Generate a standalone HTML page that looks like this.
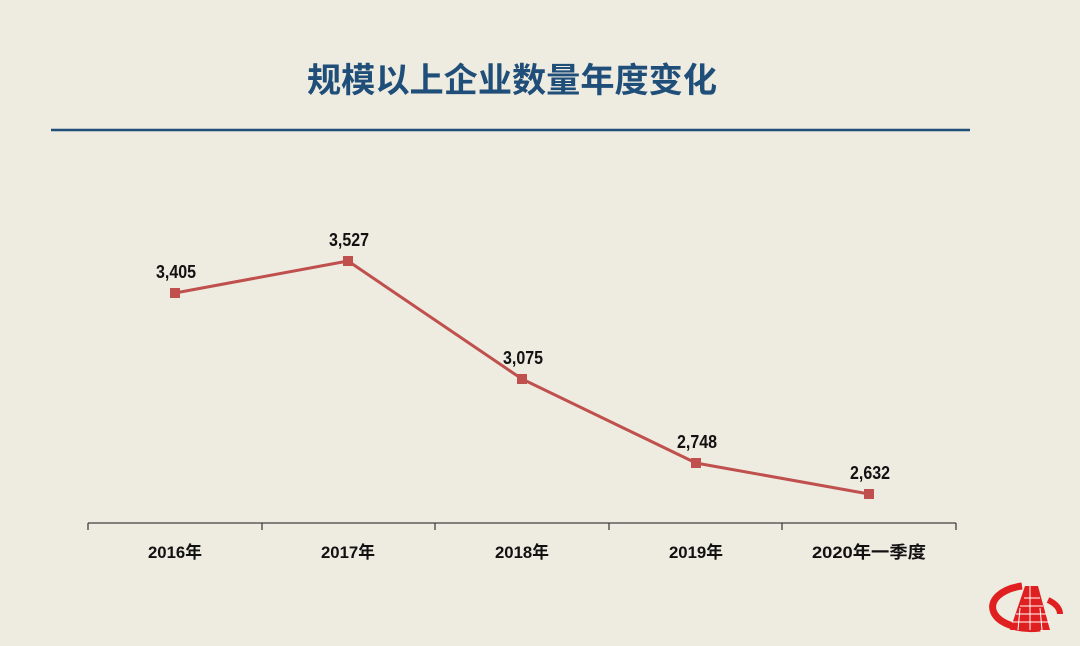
<!DOCTYPE html>
<html><head><meta charset="utf-8"><style>
body{margin:0;background:#eeebe1;}
svg{display:block}
</style></head><body>
<svg width="1080" height="646" xmlns="http://www.w3.org/2000/svg">
<rect width="1080" height="646" fill="#eeebe1"/>
<text x="512" y="92" text-anchor="middle" font-family="'Liberation Sans','Noto Sans CJK SC',sans-serif" font-weight="bold" font-size="34" textLength="410" lengthAdjust="spacingAndGlyphs" fill="#1f4e79">规模以上企业数量年度变化</text>
<line x1="51" y1="130" x2="970" y2="130" stroke="#1f4e79" stroke-width="2.5"/>
<g stroke="#404040" stroke-width="1.3">
<line x1="88" y1="523" x2="956" y2="523"/>
<line x1="88" y1="523" x2="88" y2="530"/><line x1="262" y1="523" x2="262" y2="530"/>
<line x1="435" y1="523" x2="435" y2="530"/><line x1="609" y1="523" x2="609" y2="530"/>
<line x1="782" y1="523" x2="782" y2="530"/><line x1="956" y1="523" x2="956" y2="530"/>
</g>
<polyline points="175,293 348,261 522,379 696,463 869,494" fill="none" stroke="#c0504d" stroke-width="3"/>
<g fill="#c0504d">
<rect x="170" y="288" width="10" height="10"/><rect x="343" y="256" width="10" height="10"/>
<rect x="517" y="374" width="10" height="10"/><rect x="691" y="458" width="10" height="10"/>
<rect x="864" y="489" width="10" height="10"/>
</g>
<g font-family="'Liberation Sans','Noto Sans CJK SC',sans-serif" font-weight="bold" font-size="18" fill="#111" text-anchor="middle" lengthAdjust="spacingAndGlyphs">
<text x="176" y="278" textLength="40" lengthAdjust="spacingAndGlyphs">3,405</text><text x="349" y="246" textLength="40" lengthAdjust="spacingAndGlyphs">3,527</text>
<text x="523" y="364" textLength="40" lengthAdjust="spacingAndGlyphs">3,075</text><text x="697" y="448" textLength="40" lengthAdjust="spacingAndGlyphs">2,748</text>
<text x="870" y="479" textLength="40" lengthAdjust="spacingAndGlyphs">2,632</text>
</g>
<g font-family="'Liberation Sans','Noto Sans CJK SC',sans-serif" font-weight="bold" font-size="17" fill="#111" text-anchor="middle">
<text x="175" y="558" textLength="54" lengthAdjust="spacingAndGlyphs">2016年</text><text x="348" y="558" textLength="54" lengthAdjust="spacingAndGlyphs">2017年</text>
<text x="522" y="558" textLength="54" lengthAdjust="spacingAndGlyphs">2018年</text><text x="696" y="558" textLength="54" lengthAdjust="spacingAndGlyphs">2019年</text>
<text x="869" y="558" textLength="114" lengthAdjust="spacingAndGlyphs">2020年一季度</text>
</g>
<g transform="translate(1030,608)">
<path d="M-8,-22 A32,18 0 1,0 10,20" fill="none" stroke="#e02020" stroke-width="7"/>
<path d="M18,-8 A32,18 0 0,1 30,6" fill="none" stroke="#e02020" stroke-width="6"/>
<polygon points="-5,-22 8,-22 20,22 -20,22" fill="#e02020"/>
<g stroke="#fff" stroke-width="1"><line x1="-18" y1="14" x2="20" y2="14"/><line x1="-14" y1="6" x2="16" y2="6"/><line x1="-10" y1="-2" x2="13" y2="-2"/><line x1="-6" y1="-10" x2="10" y2="-10"/><line x1="0" y1="-22" x2="0" y2="22"/><line x1="-10" y1="0" x2="-12" y2="22"/><line x1="10" y1="0" x2="12" y2="22"/></g>
</g>
</svg>
</body></html>
